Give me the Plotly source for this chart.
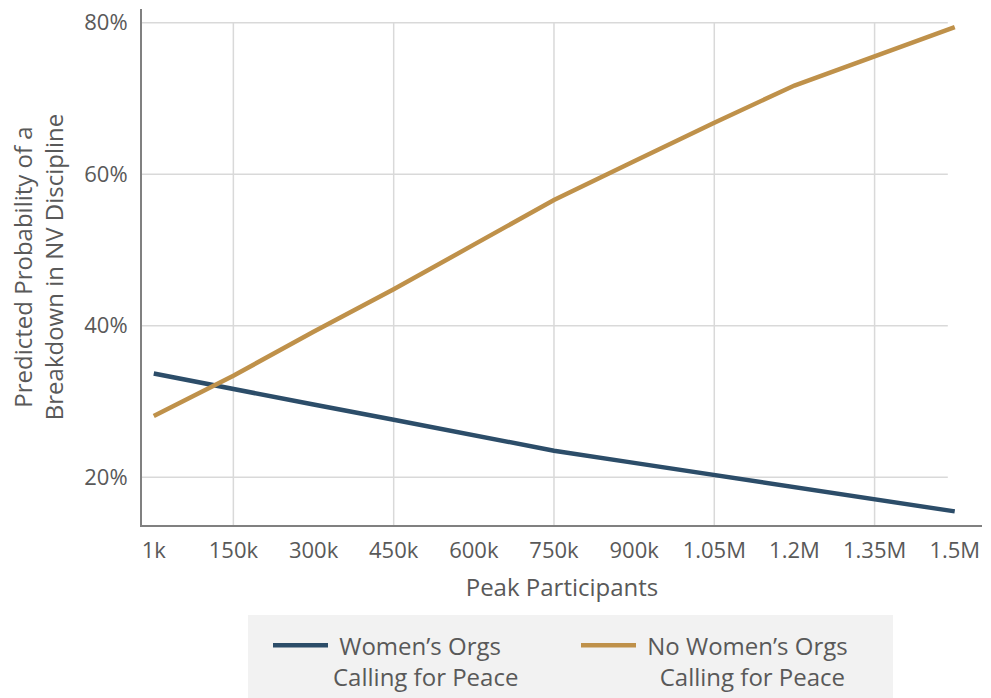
import plotly.graph_objects as go

# ---- data ----
participants = [1000, 150000, 300000, 450000, 600000, 750000, 900000,
                1050000, 1200000, 1350000, 1500000]
tick_labels = ["1k", "150k", "300k", "450k", "600k", "750k", "900k",
               "1.05M", "1.2M", "1.35M", "1.5M"]
womens_orgs = [33.7, 31.6, 29.6, 27.6, 25.5, 23.5, 21.9, 20.3, 18.7, 17.1, 15.5]
no_womens_orgs = [28.1, 33.4, 39.2, 44.8, 50.7, 56.6, 61.7, 66.8, 71.7, 75.6, 79.4]
series_names = ["\u00a0Women’s Orgs<br>Calling for Peace",
                "\u00a0No Women’s Orgs<br>\u00a0\u00a0\u00a0Calling for Peace"]
y_ticks = [20, 40, 60, 80]
y_tick_labels = ["20%", "40%", "60%", "80%"]
v_grid = [150000, 450000, 750000, 1050000, 1350000]

NAVY = "#2c4d69"
GOLD = "#bf914a"
TEXT = "#595959"
GRID = "#d9d9d9"
FONT = "Open Sans"

X_RANGE = [-21000, 1551000]
Y_RANGE = [13.7, 81.8]
GRID_X_END = 1487000

fig = go.Figure()
fig.add_trace(go.Scatter(
    x=participants, y=womens_orgs, mode="lines",
    name=series_names[0],
    line=dict(color=NAVY, width=4.5),
))
fig.add_trace(go.Scatter(
    x=participants, y=no_womens_orgs, mode="lines",
    name=series_names[1],
    line=dict(color=GOLD, width=4.5),
))

shapes = []
for yv in y_ticks:
    shapes.append(dict(type="line", xref="x", yref="y", layer="below",
                       x0=X_RANGE[0], x1=GRID_X_END, y0=yv, y1=yv,
                       line=dict(color=GRID, width=1.5)))
for xv in v_grid:
    shapes.append(dict(type="line", xref="x", yref="y", layer="below",
                       x0=xv, x1=xv, y0=Y_RANGE[0], y1=y_ticks[-1],
                       line=dict(color=GRID, width=1.5)))
# legend background panel
shapes.append(dict(type="rect", xref="paper", yref="paper", layer="below",
                   x0=0.1262, x1=0.8940, y0=-0.34, y1=-0.1744,
                   fillcolor="#f2f2f2", line=dict(width=0)))

fig.update_layout(
    width=991, height=698,
    margin=dict(l=142, r=9, t=9, b=173, autoexpand=False),
    paper_bgcolor="white", plot_bgcolor="white",
    font=dict(family=FONT, color=TEXT, size=22),
    shapes=shapes,
    showlegend=True,
    legend=dict(
        orientation="h",
        x=0.15, xanchor="left",
        y=-0.19, yanchor="top",
        bgcolor="rgba(0,0,0,0)",
        font=dict(size=24, color=TEXT),
        entrywidth=238,
        itemwidth=55,
        valign="top",
        traceorder="normal",
    ),
    xaxis=dict(
        range=X_RANGE, tickvals=participants, ticktext=tick_labels,
        showgrid=False, zeroline=False,
        showline=True, linecolor="#808080", linewidth=2,
        ticks="", ticklabelstandoff=5,
        tickfont=dict(size=22, color=TEXT),
        title=dict(text="Peak Participants", font=dict(size=24, color=TEXT), standoff=16),
    ),
    yaxis=dict(
        range=Y_RANGE, tickvals=y_ticks, ticktext=y_tick_labels,
        showgrid=False, zeroline=False,
        showline=True, linecolor="#808080", linewidth=2,
        ticks="", ticklabelstandoff=8,
        tickfont=dict(size=22, color=TEXT),
        title=dict(text="Predicted Probability of a<br>Breakdown in NV Discipline",
                   font=dict(size=24, color=TEXT), standoff=14),
    ),
)

fig.write_html("out.html", config={"displayModeBar": False},
               post_script="document.body.style.margin='0';document.body.style.overflow='hidden';")
